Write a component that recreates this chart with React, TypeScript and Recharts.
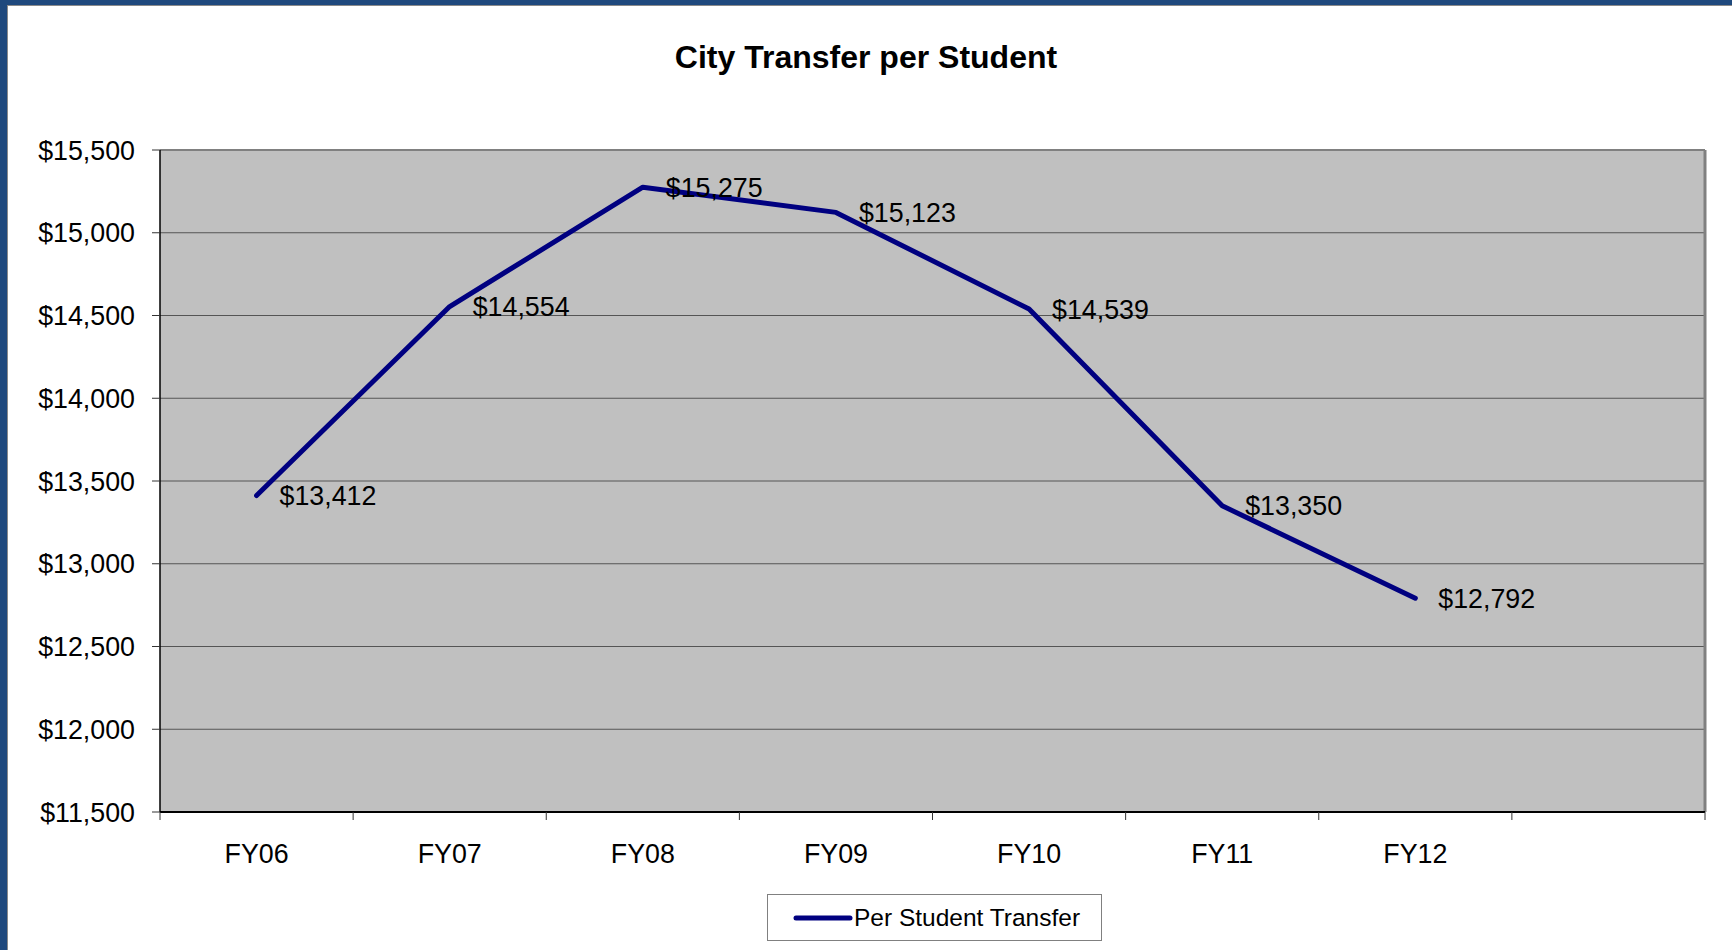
import {
  LineChart,
  Line,
  XAxis,
  YAxis,
  CartesianGrid,
  Legend,
  LabelList,
} from "recharts";

const categories = ["FY06", "FY07", "FY08", "FY09", "FY10", "FY11", "FY12", ""];
const perStudentTransfer = [13412, 14554, 15275, 15123, 14539, 13350, 12792, null];
const yTicks = [11500, 12000, 12500, 13000, 13500, 14000, 14500, 15000, 15500];

const data = categories.map((name, i) => ({ name, transfer: perStudentTransfer[i] }));

const FONT = "'Liberation Sans', Arial, Helvetica, sans-serif";
const W = 1732;
const H = 950;
const MARGIN = { top: 150, right: 27, bottom: 56, left: 0 };
const Y_AXIS_W = 160;
const X_AXIS_H = 82;
const TICK_SIZE = 8;
const X_TICK_MARGIN = 24;
const BAND = (W - MARGIN.left - MARGIN.right - Y_AXIS_W) / categories.length;
const NAVY = "#000080";
const LABEL_SIZE = 26.8;

const money = (v: number) => "$" + v.toLocaleString("en-US");

const XTick = (props: any) => {
  const { x, y, payload, index } = props;
  const axisY = y - TICK_SIZE - X_TICK_MARGIN;
  const half = BAND / 2;
  return (
    <g>
      <line x1={x - half} x2={x - half} y1={axisY} y2={axisY + TICK_SIZE} stroke="#333" />
      {index === categories.length - 1 && (
        <line x1={x + half} x2={x + half} y1={axisY} y2={axisY + TICK_SIZE} stroke="#333" />
      )}
      <text x={x} y={y} dy="0.71em" textAnchor="middle" fontSize={LABEL_SIZE} fontFamily={FONT} fill="#000">
        {payload.value}
      </text>
    </g>
  );
};

const ValueLabel = (props: any) => {
  const { x, y, value } = props;
  if (value == null) return null;
  return (
    <text x={x + 23} y={y} dy="0.36em" fontSize={LABEL_SIZE} fontFamily={FONT} fill="#000">
      {money(value)}
    </text>
  );
};

const LegendBox = () => (
  <div
    style={{
      boxSizing: "border-box",
      width: 335,
      height: 47,
      border: "1px solid #808080",
      background: "#fff",
      position: "relative",
      fontFamily: FONT,
    }}
  >
    <svg width={70} height={45} style={{ position: "absolute", left: 20, top: 0 }}>
      <line x1={8} x2={62} y1={23} y2={23} stroke={NAVY} strokeWidth={5} strokeLinecap="round" />
    </svg>
    <span
      style={{
        position: "absolute",
        left: 86,
        top: 0,
        lineHeight: "45px",
        fontSize: 24.5,
        color: "#000",
        whiteSpace: "nowrap",
      }}
    >
      Per Student Transfer
    </span>
  </div>
);

export default function App() {
  return (
    <div
      style={{
        position: "absolute",
        left: 0,
        top: 0,
        width: W,
        height: H,
        background: "#fff",
        overflow: "hidden",
      }}
    >
      {/* slide frame */}
      <div style={{ position: "absolute", left: 0, top: 0, width: W, height: 5, background: "#1F497D" }} />
      <div style={{ position: "absolute", left: 0, top: 0, width: 7, height: H, background: "#1F497D" }} />
      <div style={{ position: "absolute", left: 7, top: 5, width: W - 7, height: 1, background: "#8a8a8a" }} />
      <div style={{ position: "absolute", left: 7, top: 5, width: 1, height: H - 5, background: "#8a8a8a" }} />

      <div
        style={{
          position: "absolute",
          left: 0,
          top: 41,
          width: W,
          textAlign: "center",
          fontFamily: FONT,
          fontWeight: "bold",
          fontSize: 32,
          lineHeight: 1,
          color: "#000",
        }}
      >
        City Transfer per Student
      </div>

      <div style={{ position: "absolute", left: 0, top: 0 }}>
        <LineChart width={W} height={H} data={data} margin={MARGIN}>
          <CartesianGrid vertical={false} stroke="#555" fill="#C0C0C0" fillOpacity={1} />
          <CartesianGrid
            vertical={false}
            horizontalCoordinatesGenerator={({ offset }: any) => [offset.top]}
            stroke="#808080"
            strokeWidth={2}
          />
          <CartesianGrid
            horizontal={false}
            verticalCoordinatesGenerator={({ offset }: any) => [offset.left + offset.width]}
            stroke="#808080"
            strokeWidth={3}
          />
          <XAxis
            dataKey="name"
            scale="band"
            height={X_AXIS_H}
            interval={0}
            tickLine={false}
            tickSize={TICK_SIZE}
            tickMargin={X_TICK_MARGIN}
            axisLine={{ stroke: "#000", strokeWidth: 2 }}
            tick={<XTick />}
          />
          <YAxis
            width={Y_AXIS_W}
            domain={[11500, 15500]}
            ticks={yTicks}
            interval={0}
            tickFormatter={money}
            tickSize={TICK_SIZE}
            tickMargin={17}
            tickLine={{ stroke: "#333" }}
            axisLine={{ stroke: "#000", strokeWidth: 1.5 }}
            tick={{ fill: "#000", fontSize: LABEL_SIZE, fontFamily: FONT }}
          />
          <Legend
            layout="horizontal"
            verticalAlign="middle"
            align="center"
            wrapperStyle={{ left: 767, top: 894, width: 335, height: 47 }}
            content={() => <LegendBox />}
          />
          <Line
            type="linear"
            dataKey="transfer"
            name="Per Student Transfer"
            stroke={NAVY}
            strokeWidth={5}
            strokeLinecap="round"
            strokeLinejoin="round"
            dot={false}
            activeDot={false}
            isAnimationActive={false}
          >
            <LabelList dataKey="transfer" content={<ValueLabel />} />
          </Line>
        </LineChart>
      </div>
    </div>
  );
}
